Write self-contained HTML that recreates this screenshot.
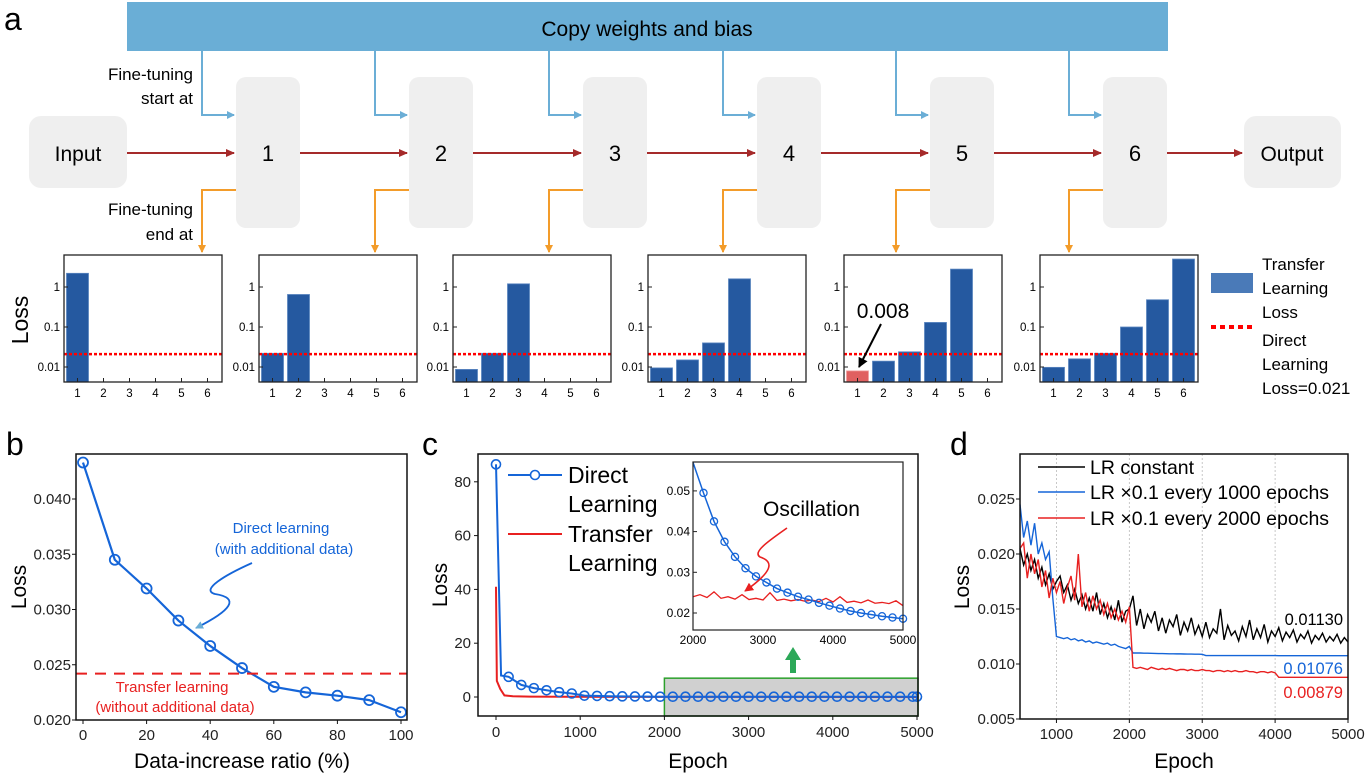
<!DOCTYPE html>
<html><head><meta charset="utf-8">
<style>
html,body{margin:0;padding:0;background:#fff;}
svg{display:block;font-family:"Liberation Sans",Arial,sans-serif;}
</style></head>
<body>
<svg id="fig" width="1367" height="775" viewBox="0 0 1367 775" xmlns="http://www.w3.org/2000/svg">
<defs>
<marker id="ab" markerWidth="8" markerHeight="8" refX="7" refY="4" orient="auto" markerUnits="userSpaceOnUse"><path d="M0,0 L8,4 L0,8 z" fill="#6baed6"/></marker>
<marker id="ar" markerWidth="9" markerHeight="8" refX="8" refY="4" orient="auto" markerUnits="userSpaceOnUse"><path d="M0,0 L9,4 L0,8 z" fill="#a52a2a"/></marker>
<marker id="ao" markerWidth="8" markerHeight="8" refX="7" refY="4" orient="auto" markerUnits="userSpaceOnUse"><path d="M0,0 L8,4 L0,8 z" fill="#f39c2a"/></marker>
<marker id="ak" markerWidth="10" markerHeight="10" refX="9" refY="5" orient="auto" markerUnits="userSpaceOnUse"><path d="M0,0 L10,5 L0,10 z" fill="#000"/></marker>
<marker id="arr" markerWidth="9" markerHeight="9" refX="8" refY="4.5" orient="auto" markerUnits="userSpaceOnUse"><path d="M0,0 L9,4.5 L0,9 z" fill="#e82020"/></marker>
</defs>

<!-- Panel a diagram -->
<text x="4" y="30" font-size="32">a</text>
<rect x="127" y="2" width="1041" height="49" fill="#6aaed6"/>
<text x="647" y="36" font-size="21" text-anchor="middle">Copy weights and bias</text>
<text x="193" y="80" font-size="17" text-anchor="end">Fine-tuning</text>
<text x="193" y="104" font-size="17" text-anchor="end">start at</text>
<text x="193" y="215" font-size="17" text-anchor="end">Fine-tuning</text>
<text x="193" y="240" font-size="17" text-anchor="end">end at</text>
<rect x="29" y="116" width="98" height="72" rx="12" fill="#efefef"/>
<text x="78" y="161" font-size="21" text-anchor="middle">Input</text>
<rect x="1244" y="116" width="97" height="72" rx="12" fill="#efefef"/>
<text x="1292" y="161" font-size="21" text-anchor="middle">Output</text>
<g id="blocks"></g>

<!-- Panel a bar charts -->
<text transform="translate(28,320) rotate(-90)" font-size="23" text-anchor="middle">Loss</text>
<g id="bars"></g>
<rect x="1211" y="273" width="42" height="20" fill="#4a7ab8"/>
<text x="1262" y="270" font-size="17">Transfer</text>
<text x="1262" y="294" font-size="17">Learning</text>
<text x="1262" y="318" font-size="17">Loss</text>
<line x1="1211" y1="327" x2="1253" y2="327" stroke="#f00" stroke-width="4" stroke-dasharray="5,4"/>
<text x="1262" y="346" font-size="17">Direct</text>
<text x="1262" y="370" font-size="17">Learning</text>
<text x="1262" y="394" font-size="17">Loss=0.021</text>

<!-- panel labels -->
<text x="6" y="455" font-size="32">b</text>
<text x="422" y="455" font-size="32">c</text>
<text x="950" y="455" font-size="32">d</text>
<g id="pb"></g>
<g id="pc"></g>
<g id="pd"></g>
</svg>
<script>
// ---------- Panel a data ----------
const barCategories = [1,2,3,4,5,6];
const barLoss1 = [2.2];
const barLoss2 = [0.022, 0.65];
const barLoss3 = [0.0087, 0.022, 1.2];
const barLoss4 = [0.0095, 0.015, 0.04, 1.6];
const barLoss5 = [0.008, 0.014, 0.024, 0.13, 2.8];
const barLoss6 = [0.0098, 0.016, 0.022, 0.1, 0.48, 5.0];
const directLearningLoss = 0.021;
const barTickValues = [1, 0.1, 0.01];
const barTickLabels = ["1", "0.1", "0.01"];

// ---------- Panel b data ----------
const ratioX = [0,10,20,30,40,50,60,70,80,90,100];
const ratioLoss = [0.0433,0.0345,0.0319,0.0290,0.0267,0.0247,0.0230,0.0225,0.0222,0.0218,0.0207];
const transferLossB = 0.0242;
const bXTicks = [0,20,40,60,80,100];
const bYTicks = [0.020,0.025,0.030,0.035,0.040];
const bYTickLabels = ["0.020","0.025","0.030","0.035","0.040"];

// ---------- Panel c data ----------
const dlEpoch = [0,60,150,300,450,600,750,900,1050,1200,1350,1500,1650,1800,1950,2100,2250,2400,2550,2700,2850,3000,3150,3300,3450,3600,3750,3900,4050,4200,4350,4500,4650,4800,4950,5000];
const dlLoss = [86.5,8,7.5,4.5,3.3,2.5,1.8,1.3,0.5,0.4,0.3,0.25,0.2,0.15,0.1,0.1,0.1,0.1,0.1,0.1,0.1,0.1,0.1,0.1,0.1,0.1,0.1,0.1,0.1,0.1,0.1,0.1,0.1,0.1,0.1,0.1];
const tlEpoch = [0,10,50,100,200,400,800,1500,3000,5000];
const tlLoss = [41,6,3,0.6,0.3,0.15,0.08,0.05,0.03,0.02];
const cXTicks = [0,1000,2000,3000,4000,5000];
const cYTicks = [0,20,40,60,80];
const insetDlEpoch = [2000,2150,2300,2450,2600,2750,2900,3050,3200,3350,3500,3650,3800,3950,4100,4250,4400,4550,4700,4850,5000];
const insetDlLoss = [0.057,0.0495,0.0425,0.0375,0.0338,0.031,0.029,0.0275,0.026,0.025,0.024,0.0233,0.0225,0.0218,0.0211,0.0205,0.0200,0.0196,0.0192,0.0189,0.0186];
const insetTlLoss = [0.0240,0.0245,0.0238,0.0252,0.0236,0.0240,0.0234,0.0245,0.0233,0.0236,0.0232,0.0250,0.0231,0.0234,0.0230,0.0233,0.0229,0.0232,0.0228,0.0236,0.0227,0.0240,0.0226,0.0229,0.0225,0.0232,0.0224,0.0226,0.0223,0.0230,0.0218];
const insetXTicks = [2000,3000,4000,5000];
const insetYTicks = [0.02,0.03,0.04,0.05];

// ---------- Panel d data (epochs 500..5000 step 50) ----------
const lrConstant = [.0205,.0190,.0200,.0185,.0195,.0178,.0188,.0172,.0182,.0168,.0175,
.0180,.0165,.0172,.0158,.0168,.0155,.0163,.0150,.0160,.0148,.0165,.0145,.0155,.0142,.0152,.0140,.0158,.0138,.0148,.0150,
.0162,.0135,.0150,.0132,.0145,.0138,.0148,.0130,.0142,.0128,.0140,.0134,.0145,.0126,.0138,.0130,.0142,.0127,.0135,.0125,
.0138,.0124,.0132,.0128,.0150,.0122,.0135,.0126,.0130,.0121,.0134,.0125,.0140,.0122,.0132,.0124,.0136,.0120,.0130,.0125,
.0133,.0121,.0129,.0124,.0131,.0120,.0127,.0123,.0130,.0119,.0126,.0122,.0128,.0120,.0125,.0121,.0127,.0119,.0124,.0120];
const lr1000 = [.0245,.0215,.0230,.0208,.0228,.0200,.0210,.0195,.0202,.0160,.0125,
.0124,.0123,.0124,.0122,.0123,.0121,.0122,.0120,.0121,.0119,.0120,.0119,.0118,.0119,.0117,.0118,.0116,.0115,.0114,.0116,
.0110,.0110,.0110,.01098,.01098,.01097,.01096,.01095,.01095,.01094,.01093,.01093,.01092,.01092,.01091,.01090,.01090,.01089,.01089,.01088,
.01077,.01077,.01077,.01077,.01077,.01077,.01077,.01077,.01077,.01077,.01077,.01077,.01077,.01077,.01077,.01077,.01077,.01077,.01077,.01077,
.01076,.01076,.01076,.01076,.01076,.01076,.01076,.01076,.01076,.01076,.01076,.01076,.01076,.01076,.01076,.01076,.01076,.01076,.01076,.01076];
const lr2000 = [.0205,.0210,.0178,.0200,.0182,.0195,.0170,.0185,.0160,.0178,.0165,
.0175,.0155,.0170,.0180,.0158,.0200,.0152,.0165,.0148,.0162,.0150,.0158,.0145,.0155,.0142,.0150,.0140,.0148,.0138,.0152,
.0097,.0096,.0097,.0096,.0095,.0097,.0096,.0095,.0096,.0095,.0096,.0095,.0094,.0095,.0095,.0094,.0095,.0094,.0094,.0095,
.0094,.0094,.0093,.0094,.0094,.0093,.0094,.0093,.0094,.0093,.0093,.0094,.0093,.0093,.0092,.0093,.0093,.0092,.0093,.0092,
.00879,.00879,.00879,.00879,.00879,.00879,.00879,.00879,.00879,.00879,.00879,.00879,.00879,.00879,.00879,.00879,.00879,.00879,.00879,.00879];
const dEpochStart = 500, dEpochStep = 50;
const dXTicks = [1000,2000,3000,4000,5000];
const dYTicks = [0.005,0.010,0.015,0.020,0.025];
const dYTickLabels = ["0.005","0.010","0.015","0.020","0.025"];
const dFinalLabels = ["0.01130","0.01076","0.00879"];

const NS = "http://www.w3.org/2000/svg";
function mk(parent, tag, attrs, txt) {
  const e = document.createElementNS(NS, tag);
  for (const k in attrs) e.setAttribute(k, attrs[k]);
  if (txt !== undefined) e.textContent = txt;
  parent.appendChild(e);
  return e;
}

// ---------- Diagram blocks ----------
const blocksG = document.getElementById('blocks');
const blockLeft = [236,409,583,757,930,1103];
for (let i = 0; i < 6; i++) {
  const bx = blockLeft[i];
  const r = mk(blocksG, 'rect', {x: bx, y: 77, width: 64, height: 151, rx: 10, fill: '#efefef'});
  
  
  const t = mk(blocksG, 'text', {x: bx+32, y: 161, 'font-size': 22, 'text-anchor': 'middle'}, String(i+1));
  
  
  const vx = bx - 34;
  const pb = mk(blocksG, 'polyline', {points: `${vx},51 ${vx},115 ${bx-2},115`, fill: 'none', stroke: '#6baed6', 'stroke-width': 2, 'marker-end': 'url(#ab)'});
  
  
  const po = mk(blocksG, 'polyline', {points: `${bx},190 ${vx},190 ${vx},252`, fill: 'none', stroke: '#f39c2a', 'stroke-width': 2, 'marker-end': 'url(#ao)'});
  
  
  const from = i === 0 ? 127 : blockLeft[i-1] + 64;
  const fa = mk(blocksG, 'line', {x1: from, y1: 153, x2: bx-2, y2: 153, stroke: '#a52a2a', 'stroke-width': 2, 'marker-end': 'url(#ar)'});
  
  
}
const fo = mk(blocksG, 'line', {x1: 1167, y1: 153, x2: 1242, y2: 153, stroke: '#a52a2a', 'stroke-width': 2, 'marker-end': 'url(#ar)'});



// ---------- Bar charts ----------
const barsG = document.getElementById('bars');
const panelX = [64,259,453,648,844,1040];
const allBars = [barLoss1,barLoss2,barLoss3,barLoss4,barLoss5,barLoss6];
const PT = 255, PB = 382, PW = 158;
function ly(v) { return 287 - 40 * Math.log10(v); }
function bxPos(px, c) { return px + 13.5 + 26 * (c - 1); }
for (let p = 0; p < 6; p++) {
  const px = panelX[p];
  const g = mk(barsG, 'g', {});
  
  
  const vals = allBars[p];
  vals.forEach((v, i) => {
    const x = bxPos(px, barCategories[i]);
    const y = ly(v);
    const isRed = (p === 4 && i === 0);
    const b = mk(g, 'rect', {x: x - 11, y: y, width: 22, height: PB - y, fill: isRed ? '#e06060' : '#2559a0', stroke: isRed ? '#f0a0a0' : '#5b86c0', 'stroke-width': 0.8});
    
    
  });
  const dl = mk(g, 'line', {x1: px, x2: px+PW, y1: ly(directLearningLoss), y2: ly(directLearningLoss), stroke: '#f00', 'stroke-width': 2.5, 'stroke-dasharray': '3,2'});
  
  
  const fr = mk(g, 'rect', {x: px, y: PT, width: PW, height: PB-PT, fill: 'none', stroke: '#222', 'stroke-width': 1.3});
  
  
  barTickValues.forEach((v, i) => {
    const t = mk(g, 'text', {x: px-4, y: ly(v)+4, 'font-size': 11.5, 'text-anchor': 'end'}, barTickLabels[i]);
    
    
    mk(g, 'line', {x1: px, x2: px+4, y1: ly(v), y2: ly(v), stroke: '#222'});
  });
  barCategories.forEach(c => {
    const x = bxPos(px, c);
    mk(g, 'line', {x1: x, x2: x, y1: PB, y2: PB-4, stroke: '#222'});
    const t = mk(g, 'text', {x: x, y: 397, 'font-size': 11.5, 'text-anchor': 'middle'}, String(c));
    
    
  });
}
const ann = mk(barsG, 'text', {x: 883, y: 318, 'font-size': 21, 'text-anchor': 'middle'}, '0.008');


const annA = mk(barsG, 'line', {x1: 881, y1: 324, x2: 859, y2: 367, stroke: '#000', 'stroke-width': 2, 'marker-end': 'url(#ak)'});



// ---------- Panel b ----------
const pbG = document.getElementById('pb');
const bL = 76, bR = 407, bT = 454, bB = 720;
function bx(v) { return 83 + (v / 100) * (401 - 83); }
function by(v) { return 720 - (v - 0.020) * 11050; }
const bLine = mk(pbG, 'polyline', {points: ratioX.map((x, i) => bx(x) + ',' + by(ratioLoss[i])).join(' '), fill: 'none', stroke: '#1565d8', 'stroke-width': 2.2});


ratioX.forEach((x, i) => {
  const c = mk(pbG, 'circle', {cx: bx(x), cy: by(ratioLoss[i]), r: 5, fill: 'none', stroke: '#1565d8', 'stroke-width': 1.8});
  
  
});
const bRed = mk(pbG, 'line', {x1: bL, x2: bR, y1: by(transferLossB), y2: by(transferLossB), stroke: '#e82020', 'stroke-width': 2, 'stroke-dasharray': '11,8'});


mk(pbG, 'rect', {x: bL, y: bT, width: bR-bL, height: bB-bT, fill: 'none', stroke: '#111', 'stroke-width': 1.5});
bXTicks.forEach(v => {
  mk(pbG, 'line', {x1: bx(v), x2: bx(v), y1: bB, y2: bB+4, stroke: '#111'});
  const t = mk(pbG, 'text', {x: bx(v), y: 740, 'font-size': 15, 'text-anchor': 'middle', fill: '#222'}, String(v));
  
  
});
bYTicks.forEach((v, i) => {
  mk(pbG, 'line', {x1: bL-4, x2: bL, y1: by(v), y2: by(v), stroke: '#111'});
  const t = mk(pbG, 'text', {x: 71, y: by(v)+5, 'font-size': 15, 'text-anchor': 'end', fill: '#222'}, bYTickLabels[i]);
  
  
});
let t;
t = mk(pbG, 'text', {x: 242, y: 768, 'font-size': 21, 'text-anchor': 'middle'}, 'Data-increase ratio (%)');
 
t = mk(pbG, 'text', {transform: 'translate(26,587) rotate(-90)', 'font-size': 21, 'text-anchor': 'middle'}, 'Loss');
 
t = mk(pbG, 'text', {x: 281, y: 533, 'font-size': 15, 'text-anchor': 'middle', fill: '#1565d8'}, 'Direct learning');
 
t = mk(pbG, 'text', {x: 284, y: 554, 'font-size': 15, 'text-anchor': 'middle', fill: '#1565d8'}, '(with additional data)');
 
t = mk(pbG, 'text', {x: 172, y: 692, 'font-size': 15, 'text-anchor': 'middle', fill: '#e82020'}, 'Transfer learning');
 
t = mk(pbG, 'text', {x: 175, y: 712, 'font-size': 15, 'text-anchor': 'middle', fill: '#e82020'}, '(without additional data)');
 
t = mk(pbG, 'path', {d: 'M252,563 C225,575 200,590 215,594 C240,598 232,610 196,628', fill: 'none', stroke: '#1565d8', 'stroke-width': 1.8, 'marker-end': 'url(#ab)'});
 

// ---------- Panel c ----------
const pcG = document.getElementById('pc');
const cL = 478, cR = 918, cT = 454, cB = 716;
function cx(v) { return 496 + v * (917 - 496) / 5000; }
function cy(v) { return 697 - v * 2.69; }
const grey = mk(pcG, 'rect', {x: cx(2000), y: cy(7), width: cR - cx(2000), height: cB - cy(7), fill: '#d0d0d0', stroke: '#2ca02c', 'stroke-width': 1.5});
 
const tl = mk(pcG, 'polyline', {points: tlEpoch.map((e, i) => cx(e) + ',' + cy(tlLoss[i])).join(' '), fill: 'none', stroke: '#e82020', 'stroke-width': 2});
 
const dlc = mk(pcG, 'polyline', {points: dlEpoch.map((e, i) => cx(e) + ',' + cy(dlLoss[i])).join(' '), fill: 'none', stroke: '#1565d8', 'stroke-width': 2});
 
dlEpoch.forEach((e, i) => {
  if (i === 1) return;
  const c = mk(pcG, 'circle', {cx: cx(e), cy: cy(dlLoss[i]), r: 4.5, fill: 'none', stroke: '#1565d8', 'stroke-width': 1.6});
   
});
mk(pcG, 'rect', {x: cL, y: cT, width: cR-cL, height: cB-cT, fill: 'none', stroke: '#111', 'stroke-width': 1.5});
cXTicks.forEach(v => {
  mk(pcG, 'line', {x1: cx(v), x2: cx(v), y1: cB, y2: cB+4, stroke: '#111'});
  const tt = mk(pcG, 'text', {x: cx(v), y: 737, 'font-size': 15, 'text-anchor': 'middle', fill: '#222'}, String(v));
   
});
cYTicks.forEach(v => {
  mk(pcG, 'line', {x1: cL-4, x2: cL, y1: cy(v), y2: cy(v), stroke: '#111'});
  const tt = mk(pcG, 'text', {x: 471, y: cy(v)+5, 'font-size': 15, 'text-anchor': 'end', fill: '#222'}, String(v));
   
});
t = mk(pcG, 'text', {x: 698, y: 768, 'font-size': 21, 'text-anchor': 'middle'}, 'Epoch');
 
t = mk(pcG, 'text', {transform: 'translate(447,585) rotate(-90)', 'font-size': 21, 'text-anchor': 'middle'}, 'Loss');
 
// legend
t = mk(pcG, 'line', {x1: 508, x2: 562, y1: 475, y2: 475, stroke: '#1565d8', 'stroke-width': 2});
 
mk(pcG, 'circle', {cx: 535, cy: 475, r: 4.5, fill: '#fff', stroke: '#1565d8', 'stroke-width': 1.6});
t = mk(pcG, 'line', {x1: 508, x2: 562, y1: 534, y2: 534, stroke: '#e82020', 'stroke-width': 2});
 
[['Direct',483],['Learning',512],['Transfer',542],['Learning',571]].forEach((a, i) => {
  const tt = mk(pcG, 'text', {x: 568, y: a[1], 'font-size': 23}, a[0]);
   
});
// inset
const iL = 693, iR = 903, iT = 462, iB = 630;
function ix(v) { return iL + (v - 2000) * (iR - iL) / 3000; }
function iy(v) { return 613 - (v - 0.02) * 4070; }
mk(pcG, 'rect', {x: iL, y: iT, width: iR-iL, height: iB-iT, fill: '#fff', stroke: 'none'});
const itl = mk(pcG, 'polyline', {points: insetTlLoss.map((v, i) => ix(2000 + i*100) + ',' + iy(v)).join(' '), fill: 'none', stroke: '#e82020', 'stroke-width': 1.3});
 
const idl = mk(pcG, 'polyline', {points: insetDlEpoch.map((e, i) => ix(e) + ',' + Math.max(iT, iy(insetDlLoss[i]))).join(' '), fill: 'none', stroke: '#1565d8', 'stroke-width': 1.5});
 
insetDlEpoch.forEach((e, i) => {
  if (i === 0) return;
  const c = mk(pcG, 'circle', {cx: ix(e), cy: iy(insetDlLoss[i]), r: 3.6, fill: 'none', stroke: '#1565d8', 'stroke-width': 1.3});
   
});
t = mk(pcG, 'rect', {x: iL, y: iT, width: iR-iL, height: iB-iT, fill: 'none', stroke: '#222', 'stroke-width': 1.2});
 
insetXTicks.forEach(v => {
  const tt = mk(pcG, 'text', {x: ix(v), y: 644, 'font-size': 12, 'text-anchor': 'middle'}, String(v));
   
});
insetYTicks.forEach(v => {
  mk(pcG, 'line', {x1: iL, x2: iL+4, y1: iy(v), y2: iy(v), stroke: '#222'});
  const tt = mk(pcG, 'text', {x: iL-3, y: iy(v)+4, 'font-size': 12, 'text-anchor': 'end'}, v.toFixed(2));
   
});
t = mk(pcG, 'text', {x: 763, y: 516, 'font-size': 21}, 'Oscillation');
 
t = mk(pcG, 'path', {d: 'M787,528 C770,540 752,552 760,557 C775,562 772,572 745,591', fill: 'none', stroke: '#e82020', 'stroke-width': 1.6, 'marker-end': 'url(#arr)'});
 
t = mk(pcG, 'polygon', {points: '790,673 796,673 796,660 801,660 793,647 785,660 790,660', fill: '#2ca858'});
 

// ---------- Panel d ----------
const pdG = document.getElementById('pd');
const dL = 1020, dR = 1348, dT = 454, dB = 719;
function dx(v) { return 1020 + (v - 500) * (1348 - 1020) / 4500; }
function dy(v) { return 719 - (v - 0.005) * 11000; }
dXTicks.slice(0, 4).forEach(v => {
  const gl = mk(pdG, 'line', {x1: dx(v), x2: dx(v), y1: dT, y2: dB, stroke: '#bbb', 'stroke-width': 0.8, 'stroke-dasharray': '2,2'});
   
});
[[lrConstant, '#000', 'lr-constant-line'], [lr1000, '#1565d8', 'lr-1000-line'], [lr2000, '#e82020', 'lr-2000-line']].forEach(s => {
  const pl = mk(pdG, 'polyline', {points: s[0].map((v, i) => dx(dEpochStart + i*dEpochStep) + ',' + dy(v)).join(' '), fill: 'none', stroke: s[1], 'stroke-width': 1.4});
   
});
mk(pdG, 'rect', {x: dL, y: dT, width: dR-dL, height: dB-dT, fill: 'none', stroke: '#111', 'stroke-width': 1.5});
dXTicks.forEach(v => {
  mk(pdG, 'line', {x1: dx(v), x2: dx(v), y1: dB, y2: dB+4, stroke: '#111'});
  const tt = mk(pdG, 'text', {x: dx(v), y: 739, 'font-size': 15, 'text-anchor': 'middle', fill: '#222'}, String(v));
   
});
dYTicks.forEach((v, i) => {
  mk(pdG, 'line', {x1: dL-4, x2: dL, y1: dy(v), y2: dy(v), stroke: '#111'});
  const tt = mk(pdG, 'text', {x: 1015, y: dy(v)+5, 'font-size': 15, 'text-anchor': 'end', fill: '#222'}, dYTickLabels[i]);
   
});
t = mk(pdG, 'text', {x: 1184, y: 768, 'font-size': 21, 'text-anchor': 'middle'}, 'Epoch');
 
t = mk(pdG, 'text', {transform: 'translate(969,587) rotate(-90)', 'font-size': 21, 'text-anchor': 'middle'}, 'Loss');
 
[['LR constant', '#000', 467], ['LR \u00d70.1 every 1000 epochs', '#1565d8', 492], ['LR \u00d70.1 every 2000 epochs', '#e82020', 518]].forEach((a, i) => {
  const ln = mk(pdG, 'line', {x1: 1038, x2: 1085, y1: a[2], y2: a[2], stroke: a[1], 'stroke-width': 1.5});
   
  const tt = mk(pdG, 'text', {x: 1090, y: a[2]+7, 'font-size': 19.5}, a[0]);
   
});
[[dFinalLabels[0], '#000', 625], [dFinalLabels[1], '#1565d8', 674], [dFinalLabels[2], '#e82020', 698]].forEach((a, i) => {
  const tt = mk(pdG, 'text', {x: 1343, y: a[2], 'font-size': 16.5, 'text-anchor': 'end', fill: a[1]}, a[0]);
   
});
</script>
</body></html>
